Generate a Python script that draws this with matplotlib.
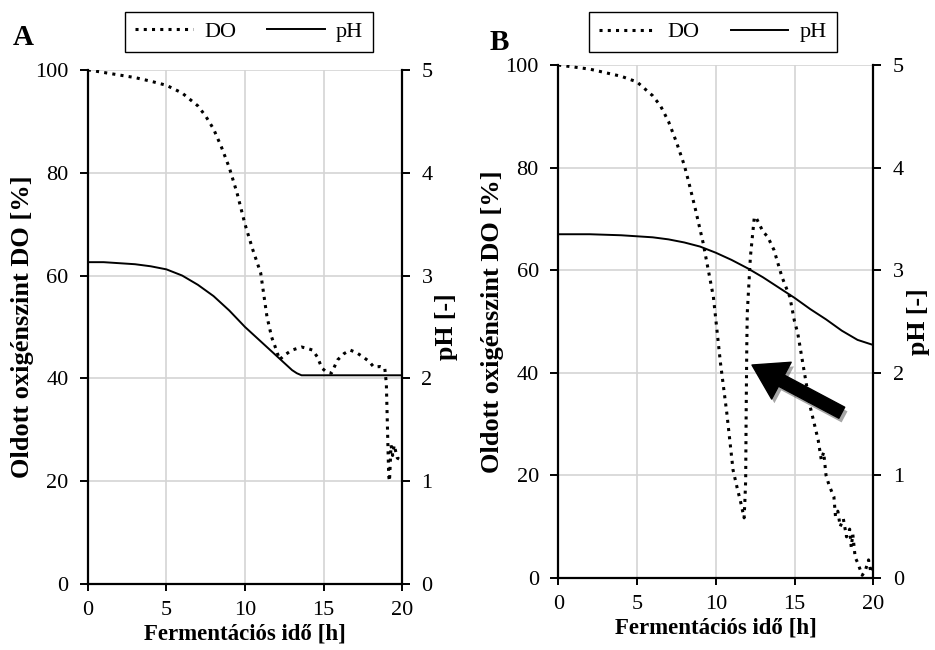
import matplotlib.pyplot as plt
from matplotlib import patheffects

plt.rcParams['font.family'] = ['Liberation Serif', 'DejaVu Serif']

# panel A - dissolved oxygen [%] and pH over fermentation time [h]
t_do_a = [0, 1, 2, 3, 4, 5, 6, 7, 7.5, 8, 8.5, 9, 9.5, 10, 10.5, 11, 11.4, 11.7, 12.0,
          12.2, 12.5, 13.0, 13.3, 13.6, 14.0, 14.3, 14.6, 14.9, 15.2, 15.5, 15.9, 16.3,
          16.7, 17.1, 17.5, 17.9, 18.2, 18.6, 18.9, 19.0, 19.05, 19.1, 19.15, 19.2, 19.3,
          19.4, 19.5, 19.7, 20]
do_a = [100, 99.5, 99, 98.5, 97.8, 97, 95.5, 93, 91, 88.5, 85, 81, 76, 70, 65, 60.5, 52,
        48, 45.5, 43.6, 44.5, 45.5, 45.8, 46.1, 45.8, 45.5, 44.2, 42, 41.2, 41, 43.6, 44.8,
        45.5, 45, 44.2, 43.3, 42.2, 42.3, 42, 39, 33, 27, 21, 20, 27, 25, 27, 24.5, 24]
t_ph_a = [0, 1, 2, 3, 4, 5, 6, 7, 8, 9, 10, 11, 12, 12.5, 13, 13.3, 13.6, 14, 16, 18, 20]
ph_a = [3.13, 3.13, 3.12, 3.11, 3.09, 3.06, 3.0, 2.91, 2.8, 2.66, 2.5, 2.36, 2.22, 2.15,
        2.08, 2.05, 2.03, 2.03, 2.03, 2.03, 2.03]

# panel B
t_do_b = [0, 1, 2, 3, 4, 5, 6, 6.5, 7, 7.5, 8, 8.25, 8.7, 9.2, 9.85, 10.3, 10.7, 11.1,
          11.4, 11.55, 11.8, 11.85, 11.9, 11.93, 11.97, 12.0, 12.2, 12.45, 12.6, 13.0,
          13.3, 13.7, 14.2, 14.7, 15.0, 15.2, 15.6, 16.0, 16.5, 16.7, 16.85, 17.0, 17.2,
          17.5, 17.6, 17.75, 17.9, 18.1, 18.3, 18.5, 18.6, 18.7, 18.85, 19.0, 19.3, 19.5,
          19.7, 19.85, 20]
do_b = [100, 99.6, 99.2, 98.5, 97.8, 96.7, 94, 92, 89, 85, 80.5, 77.6, 72, 65.3, 54.8,
        41.9, 32.2, 21, 17, 15.2, 11.7, 15, 19, 32, 45, 51.6, 62.6, 70.4, 70, 67.5, 66.5,
        63.9, 58.7, 54.8, 50, 47.8, 40.5, 33.3, 26.9, 23, 24.5, 20, 18, 15.8, 12, 13, 10,
        11.5, 8, 9.5, 6, 8.5, 4, 3, 0.5, 1.5, 3.5, 1, 2]
t_ph_b = [0, 2, 4, 5, 6, 7, 8, 9, 10, 11, 12, 13, 14, 15, 16, 17, 18, 19, 20]
ph_b = [3.35, 3.35, 3.34, 3.33, 3.32, 3.3, 3.27, 3.23, 3.17, 3.1, 3.02, 2.93, 2.83, 2.73,
        2.62, 2.52, 2.41, 2.32, 2.27]

fig = plt.figure(figsize=(9.35, 6.5), dpi=100)


def panel(rect, t_do, do, t_ph, ph, letter, letter_pos, leg_pos):
    ax = fig.add_axes(rect)
    ax2 = ax.twinx()
    l1, = ax.plot(t_do, do, color='black', linestyle=(0, (1, 1.7)), linewidth=2.2,
                  label='DO', zorder=3)
    l2, = ax2.plot(t_ph, ph, color='black', linewidth=1.4, label='pH')
    ax.set_xlim(0, 20)
    ax.set_ylim(0, 100)
    ax2.set_ylim(0, 5)
    ax.set_xticks([0, 5, 10, 15, 20])
    ax.set_yticks([0, 20, 40, 60, 80, 100])
    ax2.set_yticks([0, 1, 2, 3, 4, 5])
    ax.grid(True, color='#d4d4d4', linewidth=1.2)
    ax.set_axisbelow(True)
    for a in (ax, ax2):
        a.spines['top'].set_visible(False)
        for s in a.spines.values():
            s.set_linewidth(1.6)
    ax.spines['right'].set_visible(False)
    ax2.spines['left'].set_visible(False)
    ax2.spines['bottom'].set_visible(False)
    ax.tick_params(axis='y', direction='out', length=6, width=1.4, labelsize=16, pad=8)
    ax.tick_params(axis='x', direction='out', length=5, width=1.4, labelsize=16, pad=7)
    ax2.tick_params(axis='y', direction='out', length=6, width=1.4, labelsize=16, pad=8)
    ax.set_xlabel('Fermentációs idő [h]', fontsize=16.5, fontweight='bold', labelpad=3)
    ax.set_ylabel('Oldott oxigénszint DO [%]', fontsize=19, fontweight='bold', labelpad=1)
    ax2.set_ylabel('pH [-]', fontsize=18.5, fontweight='bold', labelpad=2)
    ax.legend([l1, l2], ['DO', 'pH'], loc='center', bbox_to_anchor=leg_pos, ncol=2,
              fancybox=False, edgecolor='black', framealpha=1, fontsize=16,
              handlelength=2.6, handletextpad=0.5, columnspacing=1.4,
              borderpad=0.45, borderaxespad=0)
    fig.text(letter_pos[0], letter_pos[1], letter, fontsize=21, fontweight='bold',
             ha='left', va='center')
    return ax


ax_a = panel([0.094, 0.1015, 0.336, 0.791], t_do_a, do_a, t_ph_a, ph_a, 'A',
             (0.014, 0.943), (0.513, 1.074))
ax_b = panel([0.597, 0.111, 0.337, 0.789], t_do_b, do_b, t_ph_b, ph_b, 'B',
             (0.524, 0.935), (0.49, 1.064))

# arrow pointing at the DO rebound in panel B
ax_b.annotate('', xy=(12.3, 41.5), xytext=(18.0, 32.2),
              arrowprops=dict(facecolor='black', edgecolor='black', width=9,
                              headwidth=30, headlength=24, shrink=0,
                              path_effects=[patheffects.withSimplePatchShadow(
                                  offset=(2, -3), alpha=0.35)]),
              zorder=5)

fig.savefig('out.png', dpi=100)
